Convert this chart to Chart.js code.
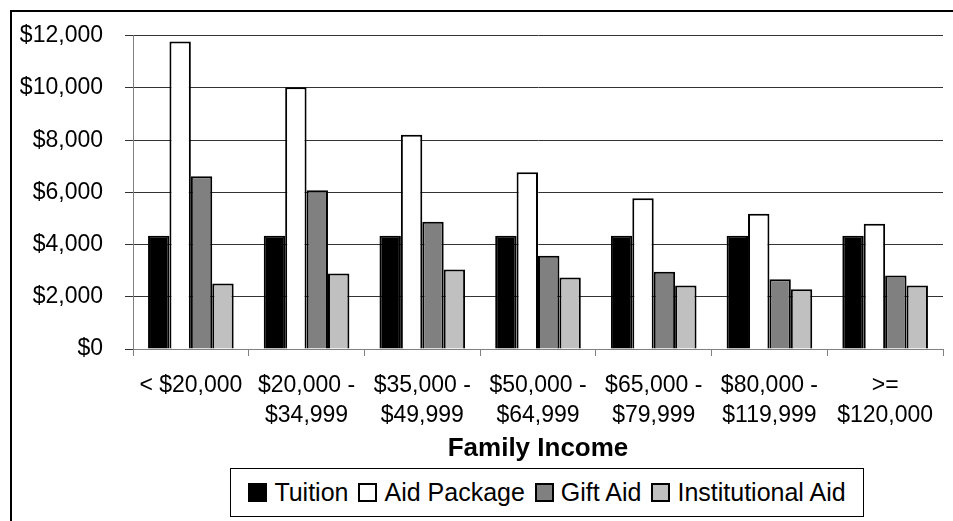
<!DOCTYPE html>
<html>
<head>
<meta charset="utf-8">
<script src="https://cdn.jsdelivr.net/npm/chart.js@4.4.0/dist/chart.umd.min.js"></script>
<style>
  html, body { margin: 0; padding: 0; background: #fff; overflow: hidden; }
  #frame { position: absolute; left: 10px; top: 10px; width: 1000px; height: 600px;
           border-left: 2px solid #000; border-top: 2px solid #000; }
  #wrap { position: absolute; left: 0; top: 0; width: 953px; height: 521px; }
  #legend { position: absolute; left: 230px; top: 468px; width: 632px; height: 47px;
            border: 1px solid #000; background: #fff; display: flex; align-items: center;
            justify-content: center; font-family: 'Liberation Sans', Arial, sans-serif;
            font-size: 25px; color: #000; }
  #legend .item { display: flex; align-items: center; margin: 0 5px; }
  #legend .box { width: 15px; height: 15px; border: 2px solid #000; margin-right: 7px; }
</style>
</head>
<body>
<div id="frame"></div>
<div id="wrap"><canvas id="myChart"></canvas></div>
<div id="legend"></div>
<script>
const incomeLabels = [
  ['< $20,000'],
  ['$20,000 -', '$34,999'],
  ['$35,000 -', '$49,999'],
  ['$50,000 -', '$64,999'],
  ['$65,000 -', '$79,999'],
  ['$80,000 -', '$119,999'],
  ['>=', '$120,000'],
];
const tuition = [4340, 4340, 4340, 4340, 4340, 4340, 4340];
const aidPackage = [11780, 10030, 8210, 6770, 5780, 5180, 4800];
const giftAid = [6620, 6080, 4880, 3570, 2960, 2670, 2820];
const institutionalAid = [2510, 2890, 3050, 2740, 2430, 2290, 2430];
const seriesNames = ['Tuition', 'Aid Package', 'Gift Aid', 'Institutional Aid'];
const seriesColors = ['#000000', '#ffffff', '#808080', '#c0c0c0'];

document.addEventListener('DOMContentLoaded', () => {
  const font = 'Liberation Sans, Arial, sans-serif';
  const seriesData = [tuition, aidPackage, giftAid, institutionalAid];

  const datasets = seriesNames.map((name, i) => ({
    label: name,
    data: seriesData[i],
    backgroundColor: seriesColors[i],
    borderColor: '#000000',
    borderWidth: 2,
    barPercentage: 1,
    categoryPercentage: 0.74,
  }));

  const ctx = document.getElementById('myChart').getContext('2d');
  const myChart = new Chart(ctx, {
    type: 'bar',
    data: { labels: incomeLabels, datasets: datasets },
    options: {
      responsive: true,
      maintainAspectRatio: false,
      animation: false,
      layout: { padding: { top: 31, right: 10, bottom: 57, left: 0 } },
      plugins: {
        legend: { display: false },
        tooltip: { enabled: false },
      },
      scales: {
        x: {
          grid: { offset: true, drawOnChartArea: false, color: '#808080', tickLength: 7 },
          border: { color: '#808080', width: 1 },
          ticks: { color: '#000', padding: 14, maxRotation: 0, autoSkip: false,
                   font: { family: font, size: 23, lineHeight: 1.32 } },
          title: { display: true, text: 'Family Income', color: '#000',
                   font: { family: font, size: 26, weight: 'bold', lineHeight: 1.2 },
                   padding: { top: 0, bottom: 0 } },
          afterFit: (scale) => { scale.height = 115; },
        },
        y: {
          min: 0,
          max: 12000,
          grid: { color: '#333333', tickLength: 8 },
          border: { color: '#808080', width: 1 },
          ticks: {
            stepSize: 2000,
            padding: 22,
            color: '#000',
            font: { family: font, size: 23 },
            callback: function (value) {
              return '$' + value.toLocaleString('en-US');
            },
          },
          afterFit: (scale) => { scale.width = 133; },
        },
      },
    },
  });

  const legend = document.getElementById('legend');
  myChart.data.datasets.forEach((ds) => {
    const item = document.createElement('span');
    item.className = 'item';
    const box = document.createElement('span');
    box.className = 'box';
    box.style.background = ds.backgroundColor;
    item.appendChild(box);
    item.appendChild(document.createTextNode(ds.label));
    legend.appendChild(item);
  });
});
</script>
</body>
</html>
